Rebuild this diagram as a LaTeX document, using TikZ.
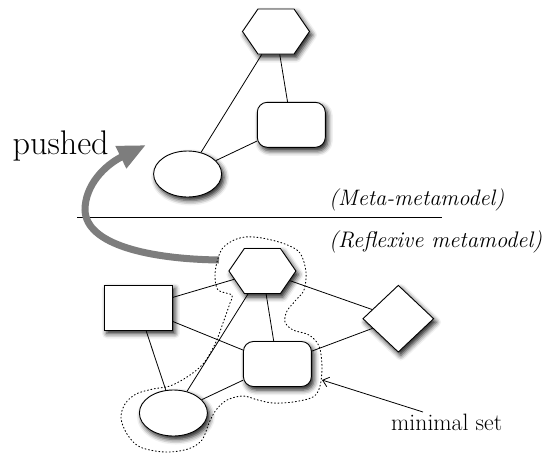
\documentclass[tikz,border=0pt]{standalone}
\usepackage{fontspec}
\usepackage{graphicx}
\usetikzlibrary{shapes.geometric,shapes.symbols,shadows.blur,arrows.meta}
\definecolor{pushgray}{RGB}{125,125,125}
% text scaled to a given width
\newcommand{\fitw}[3]{\resizebox{#1}{!}{\fontsize{#2}{#2}\selectfont #3}}
\begin{document}
\begin{tikzpicture}[x=1pt,y=-1pt,
  soft/.style={blur shadow={shadow xshift=2.5pt,shadow yshift=-3.5pt,shadow blur radius=5pt,shadow opacity=90}},
  base/.style={draw,line width=0.9pt,fill=white,inner sep=0pt,soft},
  hexa/.style={base,signal,signal to=east and west,signal pointer angle=111,minimum width=67pt,minimum height=45pt},
  ell/.style={base,ellipse,minimum width=68pt,minimum height=46pt},
  rrect/.style={base,rectangle,rounded corners=10pt,minimum width=68pt,minimum height=45pt},
  box/.style={base,rectangle,minimum width=68pt,minimum height=45pt},
  dia/.style={base,diamond,minimum width=71pt,minimum height=67pt},
  link/.style={line width=0.8pt},
  label/.style={inner sep=0pt,anchor=base west},
]
\useasboundingbox (0,0) rectangle (545,453);

% meta-metamodel level
\node[hexa]  (mh) at (276,31.5) {};
\node[rrect] (mr) at (291.3,124.8) {};
\node[ell]   (me) at (187.6,174) {};
\draw[link] (mh) -- (me);
\draw[link] (mh) -- (mr);
\draw[link] (me) -- (mr);

% reflexive metamodel level
\node[hexa]  (rh) at (262.4,271) {};
\node[box]   (rb) at (138.4,307.5) {};
\node[dia]   (rd) at (398.3,318.7) {};
\node[rrect] (rr) at (277.4,364) {};
\node[ell]   (re) at (173.4,413) {};
\draw[link] (rb) -- (rh);
\draw[link] (rb) -- (rr);
\draw[link] (rb) -- (re);
\draw[link] (rh) -- (re);
\draw[link] (rh) -- (rr);
\draw[link] (rh) -- (rd);
\draw[link] (rd) -- (rr);
\draw[link] (rr) -- (re);

% level separator
\coordinate (sepL) at (77,217);
\coordinate (sepR) at (442,217);
\draw[line width=0.8pt] (sepL) -- (sepR);

% level names
\node[label] (meta) at (329,205) {\fitw{175pt}{23}{\itshape (Meta-metamodel)}};
\node[label] (refl) at (329,247) {\fitw{213pt}{23}{\itshape (Reflexive metamodel)}};

% push arrow
\node[label] (pushed) at (12.5,154) {\fitw{96pt}{32}{pushed}};
\coordinate (pushStart) at (219,260);
\coordinate (pushTip) at (146,145);
\draw[line width=7pt,pushgray,-{Triangle[length=28pt,width=23pt]}]
  (pushStart) .. controls (150,259) and (86,245) .. (85,210)
              .. controls (85,185) and (105,165) .. (pushTip);

% minimal set outline
\draw[line width=0.9pt,dash pattern=on 1pt off 2.5pt,line cap=round]
  plot[smooth cycle,tension=0.55] coordinates {
  (217,262) (222,249) (232,241) (245,237) (262,238) (285,244) (300,253)
  (306,272) (304,290) (296,300) (287,311) (285,322) (293,330) (309,335)
  (319,346) (322,366) (320,386) (313,397) (293,402) (273,403) (258,400)
  (243,396) (227,400) (216,410) (209,423) (202,440) (188,449) (165,452)
  (140,447) (127,434) (121,418) (125,404) (136,394) (153,389) (170,386)
  (187,377) (203,364) (215,344) (223,323) (230,303) (232,295) (218,290)
  (215,276)};

\node[label] (ms) at (391,430) {\fitw{111pt}{24}{minimal set}};
\coordinate (msTail) at (423,412);
\coordinate (msTip) at (322,380);
\draw[line width=0.8pt,-{Straight Barb[length=6pt,width=10pt]}] (msTail) -- (msTip);
\end{tikzpicture}
\end{document}
